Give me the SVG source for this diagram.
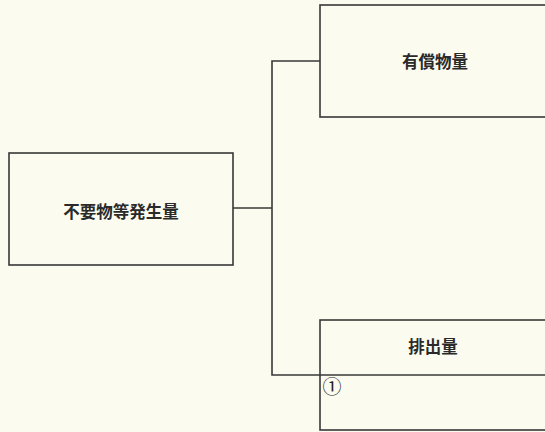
<svg xmlns="http://www.w3.org/2000/svg" width="545" height="432" viewBox="0 0 545 432">
<style>
.box{fill:none;stroke:#383838;stroke-width:1.6}
.ln{fill:none;stroke:#383838;stroke-width:1.6}
.t{font-family:"Noto Sans CJK JP","Noto Sans CJK SC",sans-serif;font-size:16.5px;font-weight:bold;fill:#2a2a2a;text-anchor:middle;dominant-baseline:central}
.n{font-family:"Noto Sans CJK JP","Noto Sans CJK SC",sans-serif;font-size:19px;fill:#222;text-anchor:middle;dominant-baseline:central}
</style>
<rect width="545" height="432" fill="#fbfbef"/>
<g id="connectors">
<polyline class="ln" points="233,208 272,208"/>
<polyline class="ln" points="320,61 272,61 272,375 320,375"/>
</g>
<g id="node-generation">
<rect class="box" x="9" y="153" width="224" height="112"/>
<text class="t" x="121" y="211">不要物等発生量</text>
</g>
<g id="node-valuable">
<rect class="box" x="320" y="5" width="240" height="112"/>
<text class="t" x="435" y="61">有償物量</text>
</g>
<g id="node-discharge">
<rect class="box" x="320" y="320" width="240" height="110"/>
<line class="ln" x1="320" y1="375" x2="560" y2="375"/>
<text class="t" x="433" y="346">排出量</text>
<text class="n" x="332" y="385">①</text>
</g>
</svg>
